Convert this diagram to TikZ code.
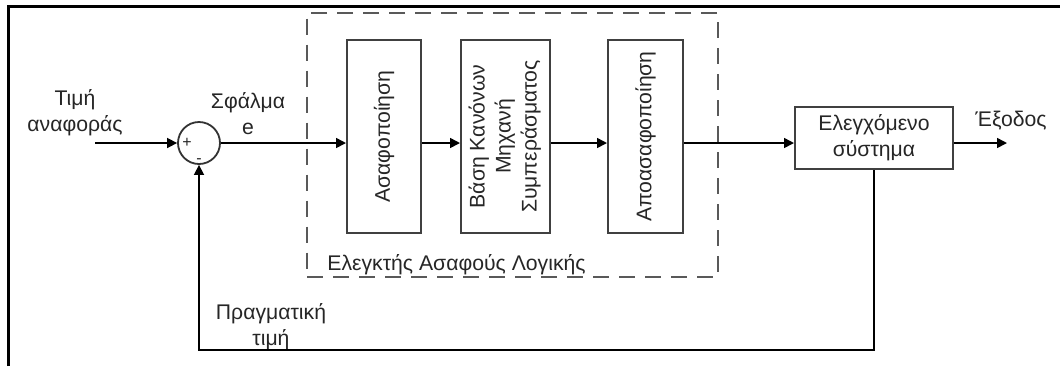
\documentclass[tikz,border=0pt]{standalone}
\usepackage{fontspec}
\setmainfont{Liberation Sans}
\usetikzlibrary{positioning,arrows.meta}

\tikzset{
	block/.style={draw=black!75,line width=1pt,rectangle,inner sep=0pt,text=black!85},
	vblock/.style={block,minimum height=96.5pt},
	sumnode/.style={draw=black!80,circle,minimum size=21pt,inner sep=0pt,line width=0.9pt},
	txt/.style={align=center,inner sep=0pt,text=black!85},
	signtxt/.style={inner sep=0pt,text=black!85,font=\fontsize{8}{9}\selectfont},
	ctrlbox/.style={draw=black!65,line width=1pt,dash pattern=on 8pt off 5pt,rectangle,inner sep=0pt},
	sig/.style={-{Triangle[length=5pt,width=5pt]},line width=0.8pt}
}

\begin{document}
\begin{tikzpicture}[x=0.5pt,y=-0.5pt,font=\fontsize{10.6}{13}\selectfont]
	\useasboundingbox (0,0) rectangle (1060,366);
	\draw[line width=1.5pt] (8.5,366) -- (8.5,6.5) -- (1060,6.5);
	\node[ctrlbox,minimum width=205.5pt,minimum height=132pt](ctrl) at (512.5,144.5){};
	\node[txt,anchor=west](ctrltitle) at (327,265){Ελεγκτής Ασαφούς Λογικής};
	\node[sumnode](sum) at (199,143){};
	\node[signtxt](plus) at (187,143){+};
	\node[signtxt](minus) at (199,161){-};
	\coordinate (in) at (95,143);
	\node[txt](ref) at (75,113){Τιμή\\αναφοράς};
	\node[txt](err) at (248,114){Σφάλμα\\e};
	\node[vblock,minimum width=37pt](fuzz) at (384,136.5){\rotatebox{90}{Ασαφοποίηση}};
	\node[vblock,minimum width=44.5pt](rule) at (505.5,136.5){\rotatebox{90}{\begin{tabular}{@{}c@{}}Βάση Κανόνων\\Μηχανή\\Συμπεράσματος\end{tabular}}};
	\node[vblock,minimum width=37.5pt](defuzz) at (645.5,136.5){\rotatebox{90}{Αποασαφοποίηση}};
	\node[block,align=center,minimum width=79pt,minimum height=31pt](plant) at (874,138){Ελεγχόμενο\\σύστημα};
	\coordinate (out) at (1007,143);
	\node[txt](outtxt) at (1011,121){Έξοδος};
	\coordinate (fb) at (199,350);
	\node[txt](real) at (271,327){Πραγματική\\τιμή};
	\draw[sig](in) -- (sum);
	\draw[sig](sum) -- (sum -| fuzz.west);
	\draw[sig](fuzz.east |- sum) -- (rule.west |- sum);
	\draw[sig](rule.east |- sum) -- (defuzz.west |- sum);
	\draw[sig](defuzz.east |- sum) -- (plant.west |- sum);
	\draw[sig](plant.east |- sum) -- (out);
	\draw[sig](plant.south) |- (fb) -- (sum.south);
\end{tikzpicture}
\end{document}
